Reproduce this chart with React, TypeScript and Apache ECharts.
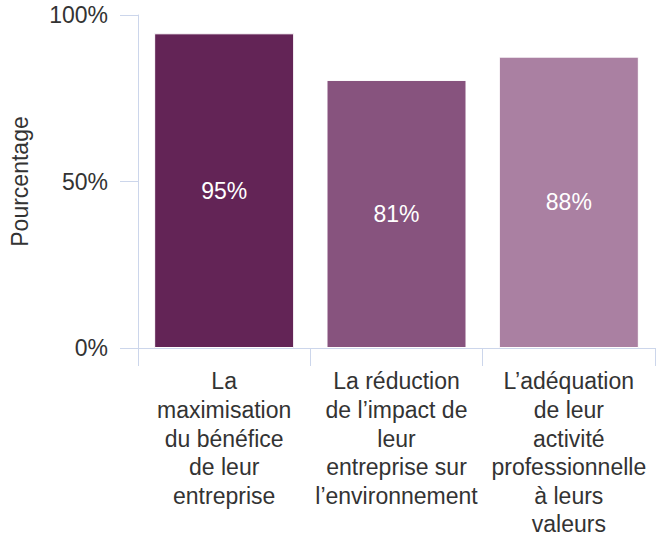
import React, { useEffect, useRef } from "react";
import * as echarts from "echarts";

const categories = [
  "La\nmaximisation\ndu bénéfice\nde leur\nentreprise",
  "La réduction\nde l’impact de\nleur\nentreprise sur\nl’environnement",
  "L’adéquation\nde leur\nactivité\nprofessionnelle\nà leurs\nvaleurs",
];
const values = [94.5, 80.5, 87.5];
const barColors = ["#632456", "#87537e", "#aa80a2"];
const yTicks = [0, 50, 100];

const FONT = "'Liberation Sans', Arial, sans-serif";
const AXIS_COLOR = "#ccd6eb";
const TEXT_COLOR = "#333333";

export default function App() {
  const ref = useRef<HTMLDivElement>(null);
  useEffect(() => {
    document.body.style.margin = "0";
    if (!ref.current) return;
    const chart = echarts.init(ref.current, undefined, { renderer: "svg" });
    chart.setOption({
      animation: false,
      grid: { left: 137, right: 1, top: 15, bottom: 196 },
      xAxis: {
        type: "category",
        data: categories,
        axisLine: { show: true, lineStyle: { color: AXIS_COLOR, width: 1 } },
        axisTick: { show: true, length: 18, lineStyle: { color: AXIS_COLOR } },
        axisLabel: {
          interval: 0,
          margin: 19,
          color: TEXT_COLOR,
          fontSize: 23,
          fontFamily: FONT,
          lineHeight: 28.6,
          align: "center",
        },
      },
      yAxis: {
        type: "value",
        min: yTicks[0],
        max: yTicks[yTicks.length - 1],
        interval: 50,
        name: "Pourcentage",
        nameLocation: "middle",
        nameGap: 107,
        nameTextStyle: { color: TEXT_COLOR, fontSize: 23, fontFamily: FONT },
        axisLine: { show: true, lineStyle: { color: AXIS_COLOR, width: 1 } },
        axisTick: { show: true, length: 18, lineStyle: { color: AXIS_COLOR } },
        splitLine: { show: false },
        axisLabel: {
          formatter: "{value}%",
          margin: 30,
          color: TEXT_COLOR,
          fontSize: 23,
          fontFamily: FONT,
        },
      },
      series: [
        {
          type: "bar",
          barWidth: 140,
          data: values.map((v, i) => ({
            value: v,
            itemStyle: { color: barColors[i] },
          })),
          itemStyle: { borderColor: "#ffffff", borderWidth: 1 },
          label: {
            show: true,
            position: "inside",
            color: "#ffffff",
            fontSize: 23,
            fontFamily: FONT,
            formatter: (p: any) => Math.round(p.value) + "%",
          },
        },
      ],
    });
    return () => chart.dispose();
  }, []);
  return <div ref={ref} style={{ width: 656, height: 544 }} />;
}
